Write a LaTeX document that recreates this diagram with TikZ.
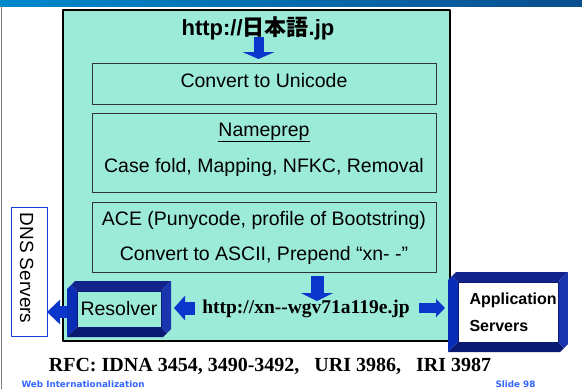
\documentclass[tikz,border=0pt]{standalone}
\usepackage{fontspec}
\setmainfont{Liberation Sans}
\newfontfamily\timesbold{Liberation Serif}
\newfontfamily\cjkfont{Noto Sans CJK JP}
\newfontfamily\footfont{DejaVu Sans}
\usetikzlibrary{arrows.meta}
\usetikzlibrary{positioning}

\definecolor{idnateal}{HTML}{9BEBD8}
\definecolor{arrowblue}{HTML}{0A36CC}
\definecolor{bevtop}{HTML}{12238C}
\definecolor{bevleft}{HTML}{0A2DB8}
\definecolor{bevright}{HTML}{1A35B0}
\definecolor{bevbot}{HTML}{0A1A72}
\definecolor{dnsblue}{HTML}{1A3FE0}
\definecolor{footblue}{HTML}{3366FF}
\definecolor{barleft}{HTML}{0088CC}
\definecolor{barright}{HTML}{0A4E8E}

\tikzset{
  stagebox/.style={draw=black!80, line width=0.8pt, inner sep=0pt, outer sep=0pt, anchor=north west},
  sanstext/.style={font=\fontsize{19.5}{23}\selectfont, anchor=base},
  blockarrow/.style={arrowblue, line width=#1, line cap=butt, -{Triangle[width=24pt,length=11pt]}},
  blockarrow/.default=12pt
}

% 3D frame: name, x1, y1, x2, y2, depth, face colour
\newcommand{\bevelbox}[7]{%
  \begin{scope}
  \clip ({#2+8},#3) -- (#4,#3) -- (#4,{#5-8}) -- ({#4-8},#5) -- (#2,#5) -- (#2,{#3+8}) -- cycle;
  \fill[bevtop] (#2,#3) -- (#4,#3) -- ({#4-#6},{#3+#6}) -- ({#2+#6},{#3+#6}) -- cycle;
  \fill[bevleft] (#2,#3) -- ({#2+#6},{#3+#6}) -- ({#2+#6},{#5-#6}) -- (#2,#5) -- cycle;
  \fill[bevbot] (#2,#5) -- ({#2+#6},{#5-#6}) -- ({#4-#6},{#5-#6}) -- (#4,#5) -- cycle;
  \fill[bevright] (#4,#3) -- (#4,#5) -- ({#4-#6},{#5-#6}) -- ({#4-#6},{#3+#6}) -- cycle;
  \end{scope}
  \node[inner sep=0pt, outer sep=0pt, anchor=north west, minimum width={(#4-#2)*1pt},
        minimum height={(#5-#3)*1pt}] (#1frame) at (#2,#3) {};
  \node[draw=bevbot, line width=0.6pt, fill=#7, inner sep=0pt, outer sep=0pt, anchor=north west,
        minimum width={(#4-#2-2*#6)*1pt}, minimum height={(#5-#3-2*#6)*1pt}] (#1) at ({#2+#6},{#3+#6}) {};
}

\begin{document}
\begin{tikzpicture}[line cap=round,line join=round,x=1pt,y=-1pt]
	\useasboundingbox (0,0) rectangle (582,389);
	\fill[white] (0,0) rectangle (582,389);
	\shade[left color=barleft, right color=barright] (0,0) rectangle (582,6);
	\draw[gray, line width=1pt] (1,6) -- (1,389);

	\node[draw=black, fill=idnateal, line width=1.5pt, inner sep=0pt, outer sep=0pt, anchor=north west,
	      minimum width=387pt, minimum height=331pt] (idna) at (63,10) {};
	\node[stagebox, minimum width=344pt, minimum height=41pt] (unicode) at (92,63) {};
	\node[stagebox, minimum width=344pt, minimum height=79pt] (nameprep) at (92,113) {};
	\node[stagebox, minimum width=344pt, minimum height=70pt] (ace) at (92,202) {};

	\node[sanstext] (unicodetxt) at (264,87) {Convert to Unicode};
	\node[sanstext] (npheadtxt) at (264,136) {\underline{Nameprep}};
	\node[sanstext] (nptxt) at (264,172.5) {Case fold, Mapping, NFKC, Removal};
	\node[sanstext] (acetxt) at (264,225) {ACE (Punycode, profile of Bootstring)};
	\node[sanstext] (ascii) at (264,260) {Convert to ASCII, Prepend “xn- -”};

	\draw[blockarrow=10pt, -{Triangle[width=32pt,length=7pt]}] (258.5,37) -- ([yshift=4pt]unicode.north -| 258.5,0);
	\node[anchor=base, font=\bfseries\fontsize{22}{26}\selectfont] (idnurl) at (258,35) {http://{\cjkfont 日本語}.jp};

	\draw[blockarrow=13pt, -{Triangle[width=32pt,length=8pt]}] ([yshift=-4pt]ace.south -| 317,0) -- (317,301);
	\node[anchor=base, font=\timesbold\bfseries\fontsize{19.5}{23}\selectfont] (asciiurl) at (306,313.3) {http://xn-{}-wgv71a119e.jp};

	\bevelbox{resolver}{67}{281}{171}{337}{10}{idnateal}
	\node[sanstext] (resolvertxt) at (resolver.center |- 0,315.7) {Resolver};
	\bevelbox{appserv}{448}{272}{568}{352}{10}{white}
	\node[anchor=base west, font=\bfseries\fontsize{16}{19}\selectfont] (apptxt) at (466,304) {Application};
	\node[anchor=base west, font=\bfseries\fontsize{16}{19}\selectfont] (servtxt) at (466,331) {Servers};

	\node[draw=dnsblue, fill=white, line width=0.8pt, inner sep=0pt, outer sep=0pt, anchor=north west,
	      minimum width=36pt, minimum height=129pt] (dns) at (11,207) {};
	\node[rotate=-90, anchor=base, font=\fontsize{19}{23}\selectfont] (dnstxt) at (20,268) {DNS Servers};

	\draw[blockarrow=13pt] (195,308) -- ([xshift=3pt]resolverframe.east |- 0,308);
	\draw[blockarrow=10pt, -{Triangle[width=18pt,length=9pt]}] (419,308) -- (445,308);
	\draw[blockarrow=12pt, -{Triangle[width=24pt,length=13pt]}] (resolverframe.west |- 0,312) -- (dns.east |- 0,312);

	\node[anchor=base, font=\timesbold\bfseries\fontsize{20}{24}\selectfont] (rfc) at (270,371)
	     {RFC: IDNA 3454, 3490-3492,~~ URI 3986,~~ IRI 3987};
	\node[anchor=base west, text=footblue, font=\footfont\bfseries\fontsize{8.8}{10}\selectfont] (webi18n) at (18,387) {Web Internationalization};
	\node[anchor=base west, text=footblue, font=\footfont\bfseries\fontsize{8.8}{10}\selectfont] (slide) at (492,387) {Slide 98};
\end{tikzpicture}
\end{document}
